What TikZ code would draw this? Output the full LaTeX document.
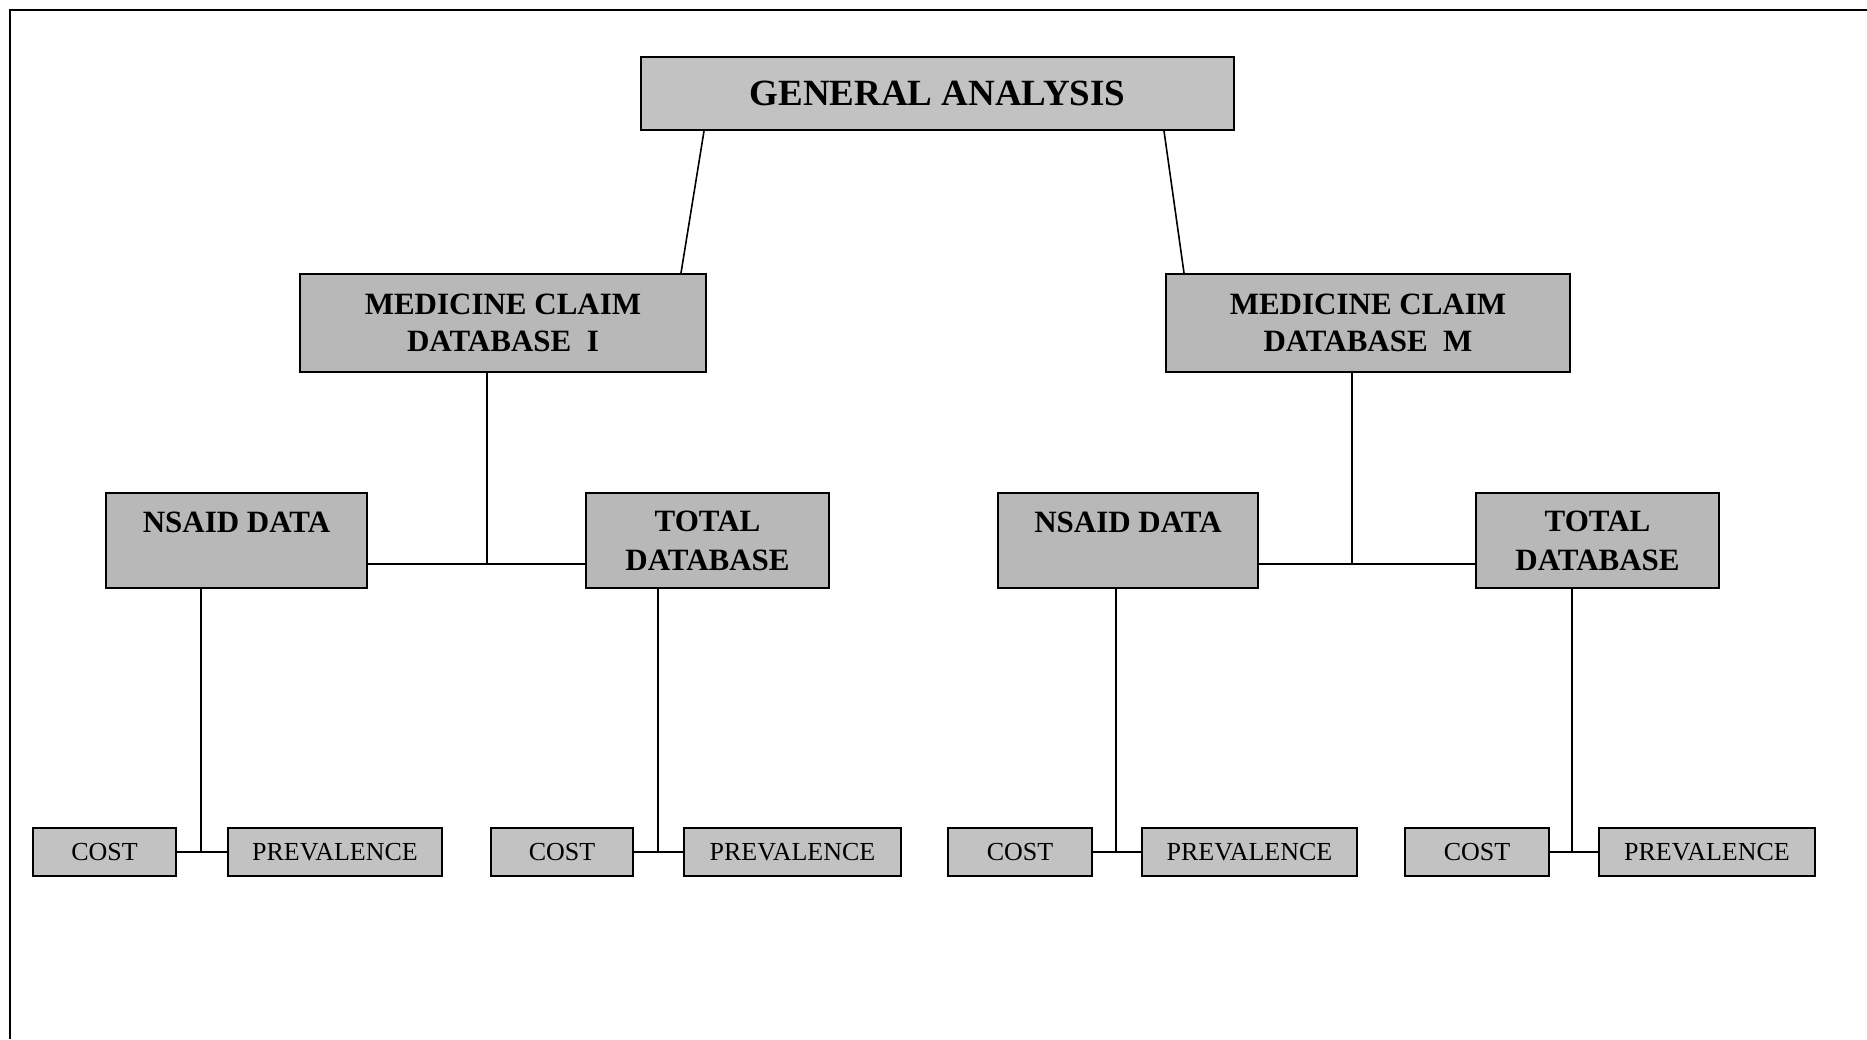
\documentclass[tikz,border=0pt]{standalone}
\usepackage{fontspec}
\setmainfont{Liberation Serif}
\usetikzlibrary{calc}

\tikzset{
  box/.style={draw=black, line width=1pt, fill=black!28, rectangle,
    inner sep=0pt, align=center, text=black},
  topbox/.style={box, fill=black!24, minimum height=36.5pt,
    font=\bfseries\fontsize{18.5}{22}\selectfont},
  midbox/.style={box, minimum height=49pt,
    font=\bfseries\fontsize{15.5}{18.5}\selectfont},
  subbox/.style={box, minimum height=47.5pt,
    font=\bfseries\fontsize{15.5}{19.5}\selectfont},
  leafbox/.style={box, fill=black!24, minimum height=24pt,
    font=\fontsize{13}{15}\selectfont},
  link/.style={draw=black, line width=0.8pt},
  frameline/.style={draw=black, line width=1pt}
}

\begin{document}
\begin{tikzpicture}[x=0.5pt, y=-0.5pt]
  % page extent
  \useasboundingbox (0,0) rectangle (1867,1039);

  % outer frame: top and left edges
  \coordinate (fTL) at (10,10);
  \coordinate (fTR) at (1867,10);
  \coordinate (fBL) at (10,1039);
  \draw[frameline] (fTR) -- (fTL) -- (fBL);

  % root
  \node[topbox, minimum width=296.5pt] (ga) at (937.5,93.5) {GENERAL ANALYSIS};

  % databases
  \node[midbox, minimum width=203pt] (mcdI) at (503,323) {MEDICINE CLAIM\\DATABASE\ \ I};
  \node[midbox, minimum width=202pt] (mcdM) at (1368,323) {MEDICINE CLAIM\\DATABASE\ \ M};

  % data sets
  \node[subbox, minimum width=130.5pt, text depth=18pt] (nsaidI) at (236.5,540.5) {NSAID DATA};
  \node[subbox, minimum width=121.5pt] (totalI) at (707.5,540.5) {TOTAL\\DATABASE};
  \node[subbox, minimum width=130pt, text depth=18pt] (nsaidM) at (1128,540.5) {NSAID DATA};
  \node[subbox, minimum width=121.5pt] (totalM) at (1597.5,540.5) {TOTAL\\DATABASE};

  % measures
  \node[leafbox, minimum width=71.5pt] (costA) at (104.5,852) {COST};
  \node[leafbox, minimum width=107pt] (prevA) at (335,852) {PREVALENCE};
  \node[leafbox, minimum width=71pt] (costB) at (562,852) {COST};
  \node[leafbox, minimum width=108.5pt] (prevB) at (792.5,852) {PREVALENCE};
  \node[leafbox, minimum width=72pt] (costC) at (1020,852) {COST};
  \node[leafbox, minimum width=107.5pt] (prevC) at (1249.5,852) {PREVALENCE};
  \node[leafbox, minimum width=72pt] (costD) at (1477,852) {COST};
  \node[leafbox, minimum width=108pt] (prevD) at (1707,852) {PREVALENCE};

  % root to databases
  \draw[link] ($(ga.south west)+(64,0)$) -- ($(mcdI.north west)+(382,0)$);
  \draw[link] ($(ga.south east)+(-71,0)$) -- ($(mcdM.north west)+(19,0)$);

  % databases to data sets
  \coordinate (jI) at (487,564);
  \coordinate (jM) at (1352,564);
  \draw[link] ($(mcdI.south)+(-16,0)$) -- (jI);
  \draw[link] (nsaidI.east |- jI) -- (totalI.west |- jI);
  \draw[link] ($(mcdM.south)+(-16,0)$) -- (jM);
  \draw[link] (nsaidM.east |- jM) -- (totalM.west |- jM);

  % data sets to measures
  \coordinate (kA) at (201,852);
  \coordinate (kB) at (658,852);
  \coordinate (kC) at (1116,852);
  \coordinate (kD) at (1572,852);
  \draw[link] (nsaidI.south -| kA) -- (kA);
  \draw[link] (costA.east) -- (prevA.west);
  \draw[link] (totalI.south -| kB) -- (kB);
  \draw[link] (costB.east) -- (prevB.west);
  \draw[link] (nsaidM.south -| kC) -- (kC);
  \draw[link] (costC.east) -- (prevC.west);
  \draw[link] (totalM.south -| kD) -- (kD);
  \draw[link] (costD.east) -- (prevD.west);
\end{tikzpicture}
\end{document}
